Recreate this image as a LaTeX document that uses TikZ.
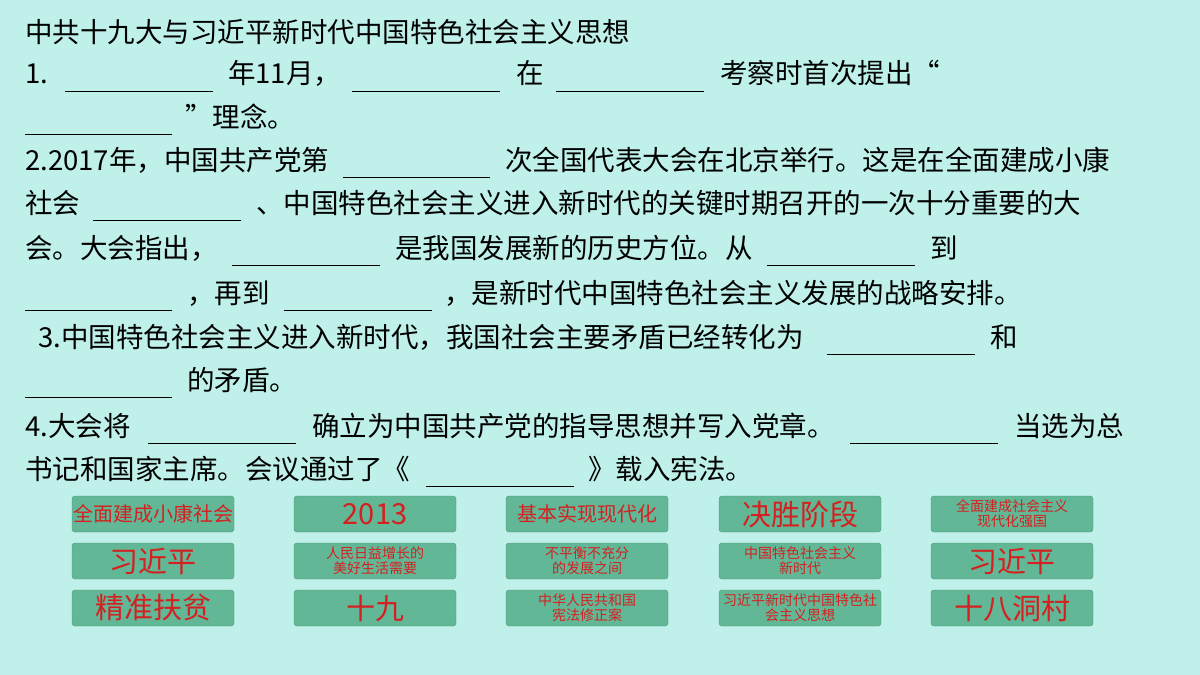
\documentclass[tikz,border=0pt]{standalone}
\usepackage{fontspec}
\setmainfont{Liberation Serif}
\newfontfamily\cjk{Noto Sans CJK SC}
\definecolor{slidebg}{HTML}{BFF1EA}
\definecolor{btnfill}{HTML}{62B896}
\definecolor{btntext}{HTML}{D42020}
\tikzset{
  txt/.style={anchor=base west, inner sep=0pt, font=\cjk\fontsize{27.5}{30}\selectfont},
  blank/.style={line width=0.8pt},
  btn/.style={draw=btnfill!80!black, line width=0.4pt, fill=btnfill, rounded corners=3pt,
    minimum width=162pt, minimum height=36pt, inner sep=1pt, text=btntext, align=center},
  big/.style={font=\cjk\fontsize{29}{31}\selectfont},
  mid/.style={font=\cjk\fontsize{20}{22}\selectfont},
  small/.style={font=\cjk\fontsize{14}{15}\selectfont}
}
\begin{document}
\begin{tikzpicture}[x=1pt,y=-1pt]

    \fill[slidebg] (0,0) rectangle (1200,675);
    \useasboundingbox (0,0) rectangle (1200,675);

    % Title
    \node[txt] (title) at (25,42) {中共十九大与习近平新时代中国特色社会主义思想};

    % question 1
    \node[txt] (q1a) at (25,83) {1.};
    \draw[blank] (65,91) -- (213,91);
    \node[txt] (q1b) at (228,83) {年11月，};
    \draw[blank] (352,91) -- (500,91);
    \node[txt] (q1c) at (516,83) {在};
    \draw[blank] (556,91) -- (704,91);
    \node[txt] (q1d) at (720,83) {考察时首次提出“};
    \draw[blank] (25,134) -- (172,134);
    \node[txt] (q1e) at (185,127) {”理念。};

    % question 2
    \node[txt] (q2a) at (25,170) {2.2017年，中国共产党第};
    \draw[blank] (343,177) -- (490,177);
    \node[txt] (q2b) at (505,170) {次全国代表大会在北京举行。这是在全面建成小康};
    \node[txt] (q2c) at (25,213) {社会};
    \draw[blank] (93,220) -- (241,220);
    \node[txt] (q2d) at (256,213) {、中国特色社会主义进入新时代的关键时期召开的一次十分重要的大};
    \node[txt] (q2e) at (25,258) {会。大会指出，};
    \draw[blank] (232,265) -- (380,265);
    \node[txt] (q2f) at (395,258) {是我国发展新的历史方位。从};
    \draw[blank] (767,265) -- (915,265);
    \node[txt] (q2g) at (930,258) {到};
    \draw[blank] (25,310) -- (172,310);
    \node[txt] (q2h) at (187,303) {，再到};
    \draw[blank] (284,310) -- (432,310);
    \node[txt] (q2i) at (444,303) {，是新时代中国特色社会主义发展的战略安排。};

    % question 3
    \node[txt] (q3a) at (38,347) {3.中国特色社会主义进入新时代，我国社会主要矛盾已经转化为};
    \draw[blank] (827,354) -- (975,354);
    \node[txt] (q3b) at (990,347) {和};
    \draw[blank] (25,397) -- (172,397);
    \node[txt] (q3c) at (187,390) {的矛盾。};

    % question 4
    \node[txt] (q4a) at (25,436) {4.大会将};
    \draw[blank] (148,443) -- (296,443);
    \node[txt] (q4b) at (312,436) {确立为中国共产党的指导思想并写入党章。};
    \draw[blank] (850,443) -- (998,443);
    \node[txt] (q4c) at (1014,436) {当选为总};
    \node[txt] (q4d) at (25,479) {书记和国家主席。会议通过了《};
    \draw[blank] (426,486) -- (574,486);
    \node[txt] (q4e) at (588,479) {》载入宪法。};

    % answer buttons, row 1
    \node[btn, mid] (b11) at (153,514) {全面建成小康社会};
    \node[btn, big] (b12) at (375,514) {2013};
    \node[btn, mid] (b13) at (587,514) {基本实现现代化};
    \node[btn, big] (b14) at (800,514) {决胜阶段};
    \node[btn, small] (b15) at (1012,514) {全面建成社会主义\\现代化强国};

    % row 2
    \node[btn, big] (b21) at (153,561) {习近平};
    \node[btn, small] (b22) at (375,561) {人民日益增长的\\美好生活需要};
    \node[btn, small] (b23) at (587,561) {不平衡不充分\\的发展之间};
    \node[btn, small] (b24) at (800,561) {中国特色社会主义\\新时代};
    \node[btn, big] (b25) at (1012,561) {习近平};

    % row 3
    \node[btn, big] (b31) at (153,608) {精准扶贫};
    \node[btn, big] (b32) at (375,608) {十九};
    \node[btn, small] (b33) at (587,608) {中华人民共和国\\宪法修正案};
    \node[btn, small] (b34) at (800,608) {习近平新时代中国特色社\\会主义思想};
    \node[btn, big] (b35) at (1012,608) {十八洞村};

\end{tikzpicture}
\end{document}
